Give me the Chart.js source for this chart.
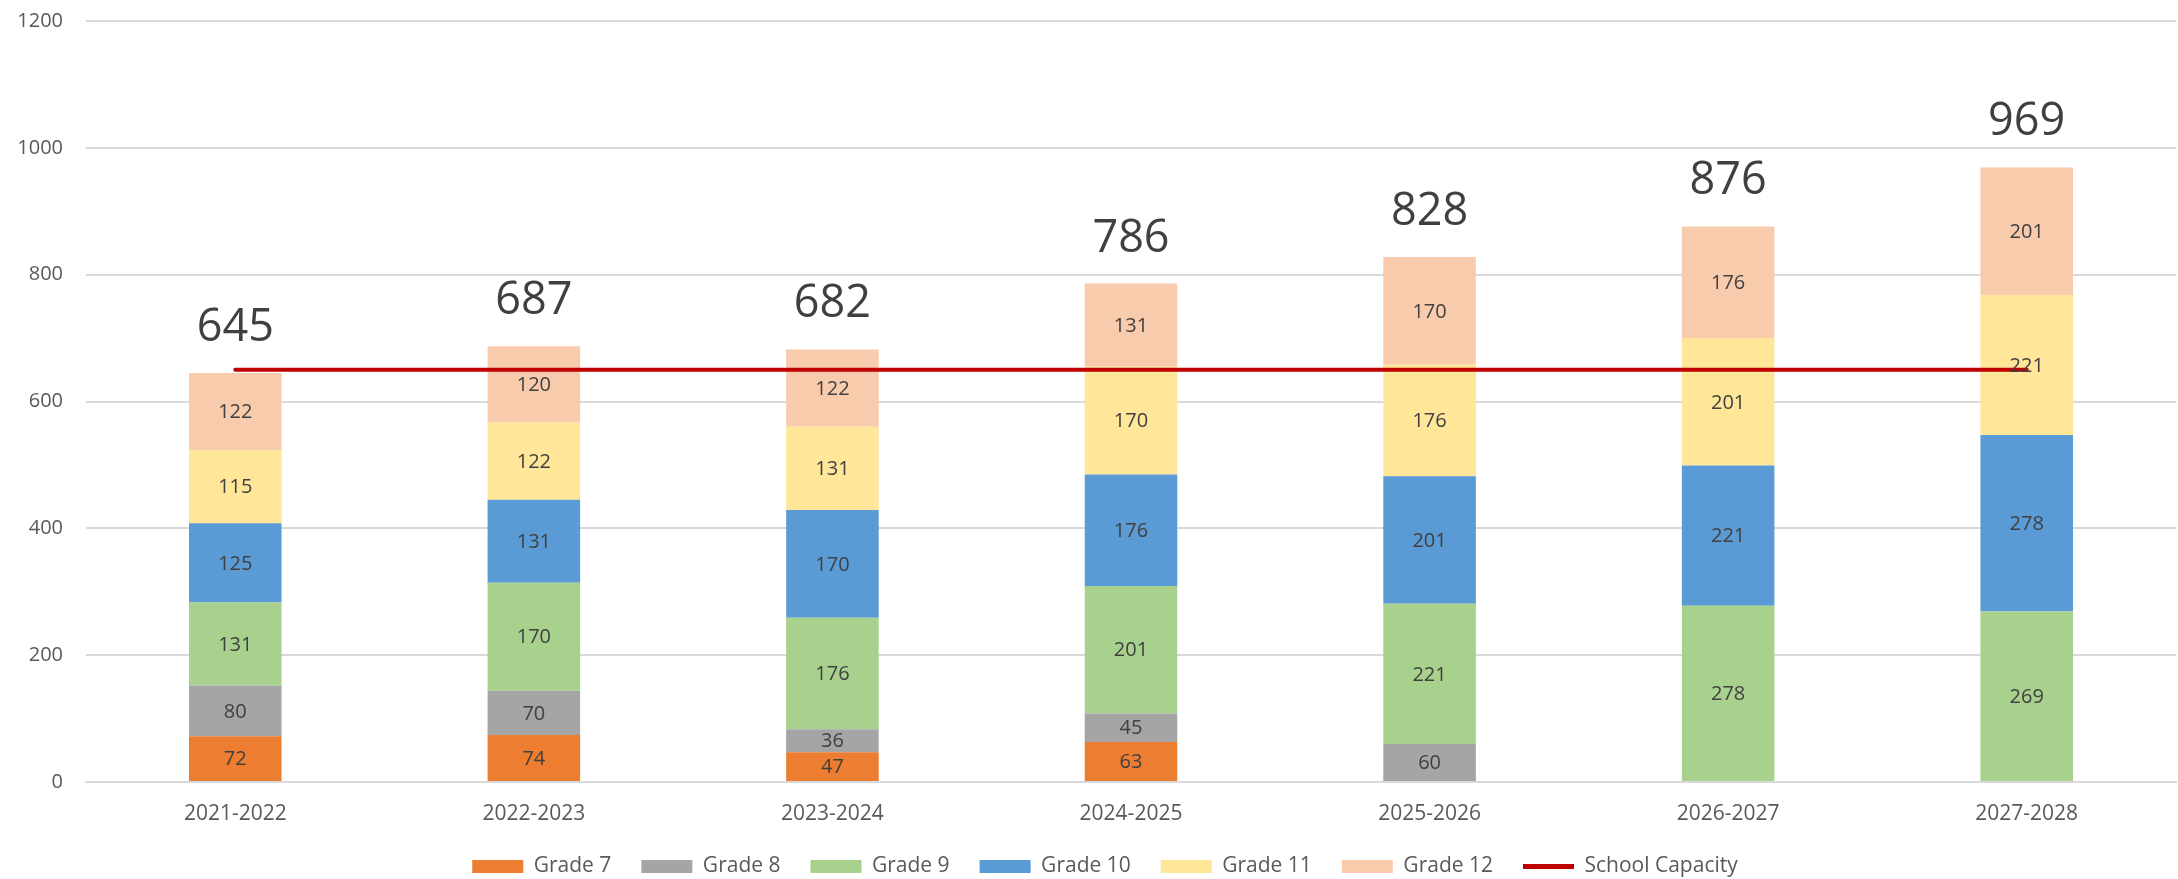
<!DOCTYPE html>
<html>
<head>
<meta charset="utf-8">
<script src="https://cdn.jsdelivr.net/npm/chart.js@4"></script>
<style>
  html, body { margin: 0; padding: 0; background: #fff; }
  #wrap { width: 2178px; height: 879px; position: relative; }
</style>
</head>
<body>
<div id="wrap"><canvas id="myChart"></canvas></div>
<script>
const categories = ["2021-2022", "2022-2023", "2023-2024", "2024-2025", "2025-2026", "2026-2027", "2027-2028"];
const grade7 = [72, 74, 47, 63, 0, 0, 0];
const grade8 = [80, 70, 36, 45, 60, 0, 0];
const grade9 = [131, 170, 176, 201, 221, 278, 269];
const grade10 = [125, 131, 170, 176, 201, 221, 278];
const grade11 = [115, 122, 131, 170, 176, 201, 221];
const grade12 = [122, 120, 122, 131, 170, 176, 201];
const capacity = [650, 650, 650, 650, 650, 650, 650];
const yTicks = [0, 200, 400, 600, 800, 1000, 1200];

const FONT = "'Open Sans', 'DejaVu Sans', sans-serif";

// draws the value inside each segment and the total above each bar
const labelPlugin = {
   id: "labels",
   afterLayout(chart) {
      // legend sits a bit right of the canvas centre
      chart.legend.left += 17;
      chart.legend.right += 17;
   },
   afterDatasetsDraw(chart) {
      const ctx = chart.ctx;
      const barSets = chart.data.datasets
         .map((d, i) => i)
         .filter((i) => chart.data.datasets[i].type === "bar");
      ctx.save();
      ctx.fillStyle = "#404040";
      ctx.textAlign = "center";
      ctx.textBaseline = "middle";
      ctx.font = "20px " + FONT;
      barSets.forEach((i) => {
         const meta = chart.getDatasetMeta(i);
         meta.data.forEach((el, j) => {
            const v = chart.data.datasets[i].data[j];
            if (!v) return;
            ctx.fillText(v, el.x, (el.y + el.base) / 2 + 1);
         });
      });
      // totals
      ctx.font = "45px " + FONT;
      ctx.textBaseline = "alphabetic";
      const xs = chart.getDatasetMeta(barSets[0]).data;
      categories.forEach((c, j) => {
         let total = 0;
         barSets.forEach((i) => (total += chart.data.datasets[i].data[j] || 0));
         const y = chart.scales.y.getPixelForValue(total);
         ctx.fillText(total, xs[j].x, y - 32);
      });
      ctx.restore();
   },
};

const bar = (label, data, color) => ({
   type: "bar",
   label: label,
   data: data,
   backgroundColor: color,
   borderWidth: 0,
   order: 1,
   stack: "grades",
});

let ctx = document.getElementById("myChart").getContext("2d");
let myChart = new Chart(ctx, {
   data: {
      labels: categories,
      datasets: [
         bar("Grade 7", grade7, "#ED7D31"),
         bar("Grade 8", grade8, "#A5A5A5"),
         bar("Grade 9", grade9, "#A9D18E"),
         bar("Grade 10", grade10, "#5B9BD5"),
         bar("Grade 11", grade11, "#FFE699"),
         bar("Grade 12", grade12, "#F8CBAD"),
         {
            type: "line",
            label: "School Capacity",
            data: capacity,
            borderColor: "#C00000",
            backgroundColor: "#C00000",
            borderWidth: 4,
            borderCapStyle: "round",
            pointRadius: 0,
            pointHoverRadius: 0,
            order: 0,
            stack: "cap",
         },
      ],
   },
   options: {
      responsive: true,
      maintainAspectRatio: false,
      animation: false,
      layout: { padding: { top: 21, right: 2, left: 0, bottom: -8 } },
      datasets: {
         bar: { categoryPercentage: 1, barPercentage: 0.31 },
      },
      scales: {
         x: {
            stacked: true,
            afterFit: (scale) => {
               scale.height = 44;
            },
            grid: { display: false, drawTicks: false },
            border: { color: "#D9D9D9", width: 2 },
            ticks: { color: "#595959", font: { family: FONT, size: 21 }, padding: 19 },
         },
         y: {
            stacked: true,
            min: 0,
            max: 1200,
            afterBuildTicks: (scale) => {
               scale.ticks = yTicks.map((v) => ({ value: v }));
            },
            afterFit: (scale) => {
               scale.width = 86;
               scale.paddingTop = 0;
               scale.paddingBottom = 0;
            },
            grid: { color: "#D9D9D9", lineWidth: 2, drawTicks: false },
            border: { display: false },
            ticks: {
               color: "#595959",
               font: { family: FONT, size: 20 },
               padding: 23,
               callback: (v) => String(v),
            },
         },
      },
      plugins: {
         tooltip: { enabled: false },
         legend: {
            position: "bottom",
            labels: {
               color: "#595959",
               font: { family: FONT, size: 21 },
               padding: 30,
               usePointStyle: true,
               pointStyleWidth: 51,
               boxHeight: 13,
               generateLabels: (chart) =>
                  chart.data.datasets.map((d, i) => ({
                     text: d.label,
                     fillStyle: d.backgroundColor,
                     strokeStyle: d.type === "line" ? d.borderColor : d.backgroundColor,
                     lineWidth: d.type === "line" ? 5 : 0,
                     pointStyle: d.type === "line" ? "line" : "rect",
                     fontColor: "#595959",
                     hidden: false,
                     datasetIndex: i,
                  })),
            },
         },
      },
   },
   plugins: [labelPlugin],
});
</script>
</body>
</html>
